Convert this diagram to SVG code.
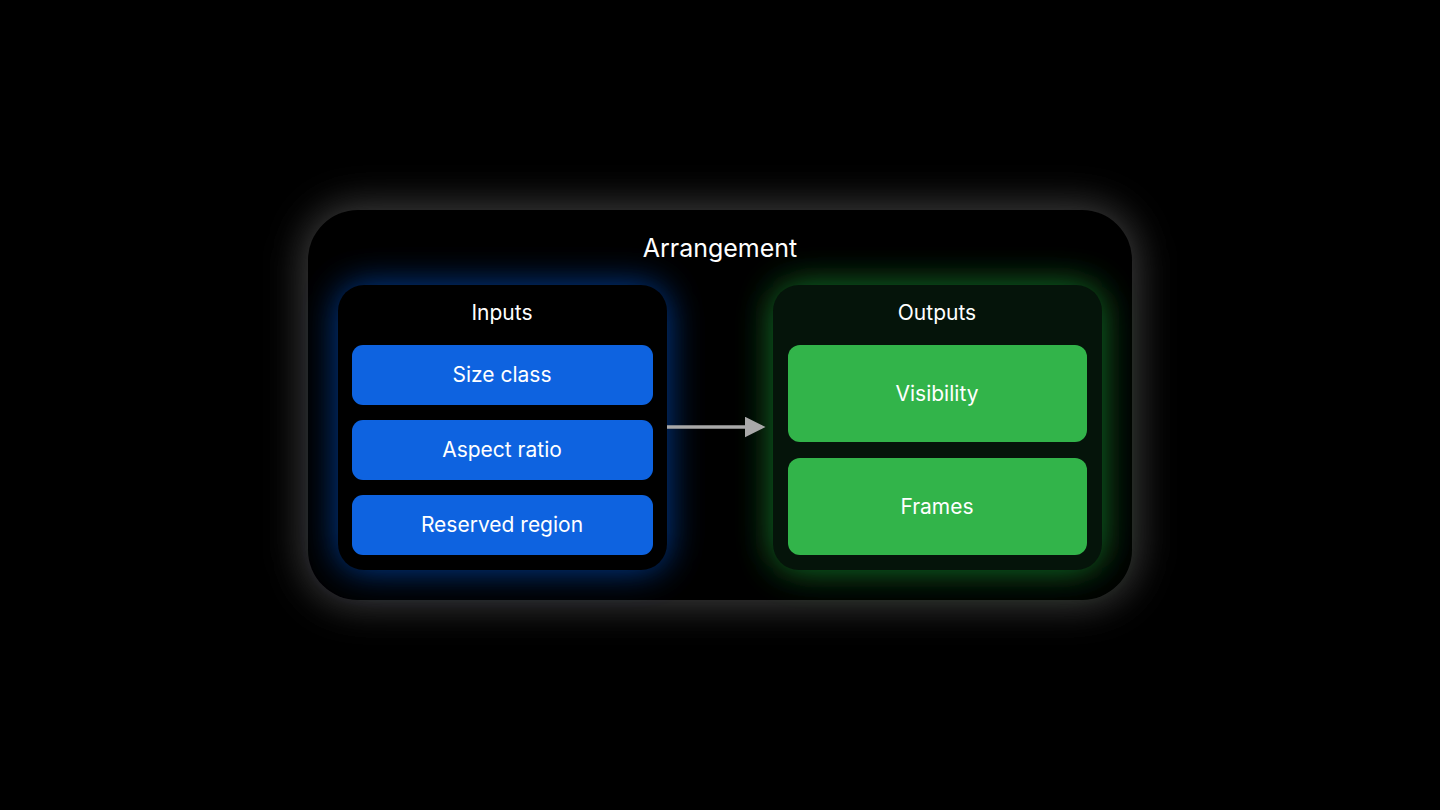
<svg xmlns="http://www.w3.org/2000/svg" width="1440" height="810" viewBox="0 0 1440 810">
<defs>
<filter id="whiteGlow" x="-20%" y="-40%" width="140%" height="180%">
<feGaussianBlur stdDeviation="20"/>
</filter>
<filter id="blueGlow" x="-40%" y="-40%" width="180%" height="180%">
<feGaussianBlur stdDeviation="18"/>
</filter>
<marker id="arrow" markerWidth="6" markerHeight="6" refX="5" refY="3" orient="auto" markerUnits="strokeWidth">
<path d="M0,0 L6,3 L0,6 z" fill="#a9a9a9"/>
</marker>
<style>
.title{font-family:"Inter","Liberation Sans",sans-serif;fill:#ffffff;text-anchor:middle}
.item{font-family:"Inter","Liberation Sans",sans-serif;fill:#ffffff;font-size:21px;text-anchor:middle}
.blue{fill:#0e63e0}
.green{fill:#32b44a}
.panel{fill:#000000}
</style>
</defs>
<rect width="1440" height="810" fill="#000000"/>
<g id="arrangement">
<rect x="304" y="206" width="832" height="398" rx="54" fill="#6e6e6e" opacity="0.6" filter="url(#whiteGlow)"/>
<rect x="308" y="210" width="824" height="390" rx="50" fill="#000000"/>
<text class="title" x="720" y="257" font-size="25">Arrangement</text>
</g>
<g id="inputs">
<rect x="338" y="285" width="329" height="285" rx="26" fill="#0a4fc0" opacity="0.8" filter="url(#blueGlow)"/>
<rect x="338" y="285" width="329" height="285" rx="26" class="panel"/>
<text class="title" x="502" y="320" font-size="21">Inputs</text>
</g>
<g id="size-class">
<rect x="352" y="345" width="301" height="60" rx="11" class="blue"/>
<text class="item" x="502" y="382">Size class</text>
</g>
<g id="aspect-ratio">
<rect x="352" y="420" width="301" height="60" rx="11" class="blue"/>
<text class="item" x="502" y="457">Aspect ratio</text>
</g>
<g id="reserved-region">
<rect x="352" y="495" width="301" height="60" rx="11" class="blue"/>
<text class="item" x="502" y="532">Reserved region</text>
</g>
<g id="outputs">
<rect x="773" y="285" width="329" height="285" rx="26" fill="#1f9a35" opacity="0.8" filter="url(#blueGlow)"/>
<rect x="773" y="285" width="329" height="285" rx="26" fill="#05140a"/>
<text class="title" x="937" y="320" font-size="21">Outputs</text>
</g>
<g id="visibility">
<rect x="788" y="345" width="299" height="97" rx="12" class="green"/>
<text class="item" x="937" y="401">Visibility</text>
</g>
<g id="frames">
<rect x="788" y="458" width="299" height="97" rx="12" class="green"/>
<text class="item" x="937" y="514">Frames</text>
</g>
<g id="connectors">
<line x1="667" y1="427" x2="762" y2="427" stroke="#a9a9a9" stroke-width="3.5" marker-end="url(#arrow)"/>
</g>
</svg>
